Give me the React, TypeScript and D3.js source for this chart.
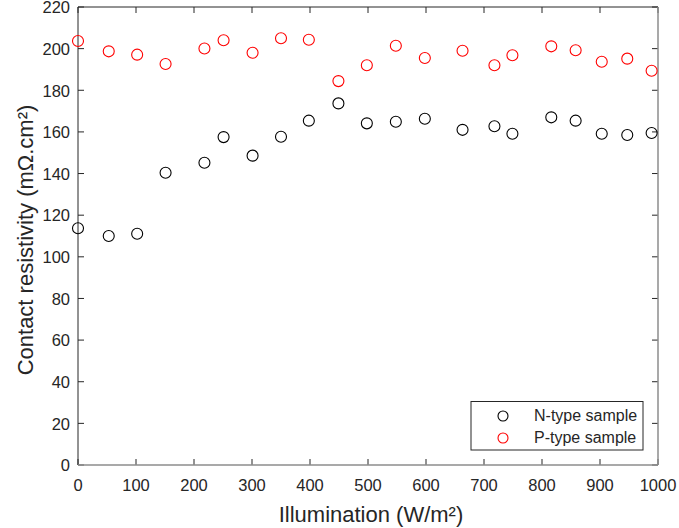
import React from "react";
import * as d3 from "d3";

const illumination = [0, 53, 102, 151, 218, 251, 301, 350, 398, 449, 498, 548, 598, 663, 718, 749, 816, 858, 903, 947, 989];
const nType = [113.7, 110, 111.1, 140.4, 145.2, 157.5, 148.6, 157.7, 165.4, 173.7, 164.1, 164.9, 166.3, 161, 162.7, 159.1, 167, 165.4, 159.1, 158.5, 159.5];
const pType = [203.7, 198.7, 197.1, 192.6, 200.1, 204, 198, 205, 204.3, 184.4, 192, 201.4, 195.5, 199, 192, 196.8, 201.1, 199.2, 193.7, 195.2, 189.4];
const xTicks = [0, 100, 200, 300, 400, 500, 600, 700, 800, 900, 1000];
const yTicks = [0, 20, 40, 60, 80, 100, 120, 140, 160, 180, 200, 220];
const seriesNames = ["N-type sample", "P-type sample"];
const seriesColors = ["#000000", "#ff0000"];

export default function App() {
  const W = 679, H = 528;
  const L = 78, R = 658, T = 7, B = 465;
  const x = d3.scaleLinear().domain([0, 1000]).range([L, R]);
  const y = d3.scaleLinear().domain([0, 220]).range([B, T]);
  const font = "'Liberation Sans', Arial, Helvetica, sans-serif";
  const axisColor = "#262626";
  const tickLen = 6;
  const series = [nType, pType];
  return (
    <svg width={W} height={H} style={{ position: "absolute", left: 0, top: 0, background: "#fff" }} fontFamily={font}>
      <rect x={0} y={0} width={W} height={H} fill="#fff" />
      {xTicks.map((t) => (
        <g key={"xt" + t}>
          <line x1={x(t)} x2={x(t)} y1={B} y2={B - tickLen} stroke={axisColor} strokeWidth={1} />
          <line x1={x(t)} x2={x(t)} y1={T} y2={T + tickLen} stroke={axisColor} strokeWidth={1} />
          <text x={x(t)} y={491} textAnchor="middle" fontSize={16.5} fill={axisColor}>{t}</text>
        </g>
      ))}
      {yTicks.map((t) => (
        <g key={"yt" + t}>
          <line x1={L} x2={L + tickLen} y1={y(t)} y2={y(t)} stroke={axisColor} strokeWidth={1} />
          <line x1={R} x2={R - tickLen} y1={y(t)} y2={y(t)} stroke={axisColor} strokeWidth={1} />
          <text x={70} y={y(t) + 6.3} textAnchor="end" fontSize={16.5} fill={axisColor}>{t}</text>
        </g>
      ))}
      <line x1={L} x2={R} y1={T} y2={T} stroke={axisColor} strokeWidth={1} />
      <line x1={L} x2={L} y1={T} y2={B} stroke={axisColor} strokeWidth={1} />
      <line x1={L} x2={R} y1={B} y2={B} stroke="#8c8c8c" strokeWidth={1.5} />
      <line x1={R} x2={R} y1={T} y2={B} stroke="#8c8c8c" strokeWidth={1.5} />
      {series.map((vals, si) => (
        <g key={"s" + si}>
          {vals.map((v, i) => (
            <circle key={i} cx={x(illumination[i])} cy={y(v)} r={5.5} fill="none" stroke={seriesColors[si]} strokeWidth={1.1} />
          ))}
        </g>
      ))}
      <text x={371} y={522} textAnchor="middle" fontSize={22} fill={axisColor}>Illumination (W/m²)</text>
      <text transform={`translate(33, 240) rotate(-90)`} textAnchor="middle" fontSize={22} fill={axisColor}>Contact resistivity (mΩ.cm²)</text>
      <rect x={471} y={401.5} width={172} height={48.5} fill="#fff" stroke="#262626" strokeWidth={1} />
      {seriesNames.map((name, i) => (
        <g key={"lg" + i}>
          <circle cx={503} cy={416 + i * 22} r={5} fill="none" stroke={seriesColors[i]} strokeWidth={1.1} />
          <text x={534} y={421 + i * 22} fontSize={16} fill={axisColor}>{name}</text>
        </g>
      ))}
    </svg>
  );
}
